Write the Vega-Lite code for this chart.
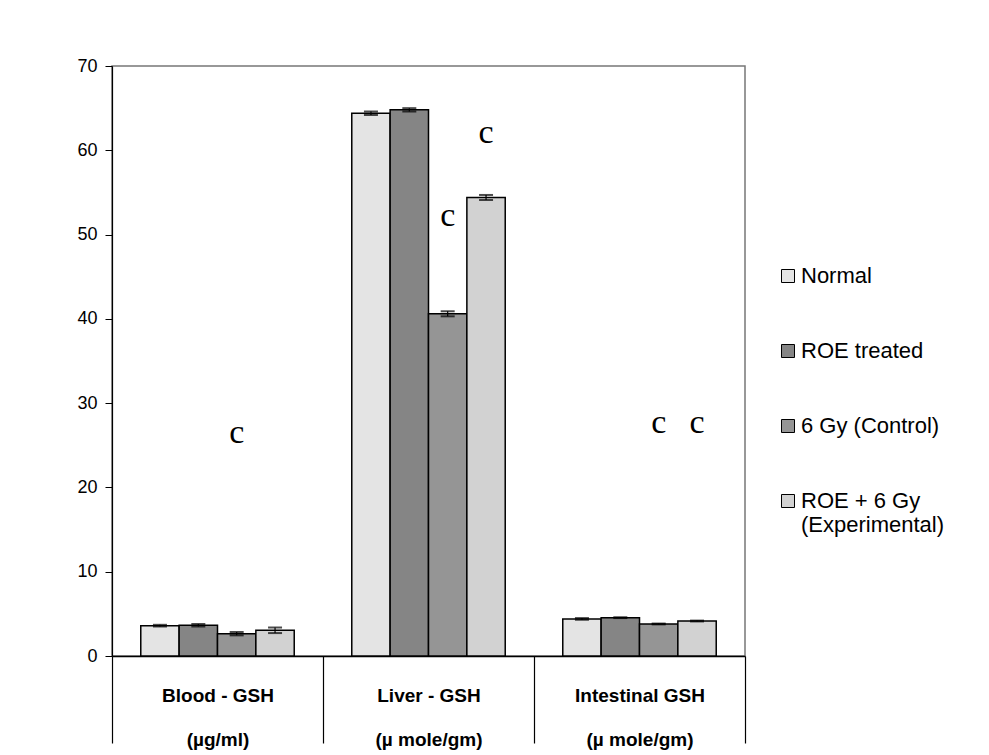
{
  "$schema": "https://vega.github.io/schema/vega-lite/v6.json",
  "width": 633,
  "height": 590,
  "autosize": {"type": "none"},
  "padding": {"left": 112, "top": 66, "right": 244, "bottom": 99},
  "background": "white",
  "config": {
    "view": {"stroke": "#777777", "strokeWidth": 1.5},
    "font": "Liberation Sans"
  },
  "datasets": {
    "bars": [
      {"cat": "Blood - GSH|(µg/ml)", "group": "Normal", "value": 3.6, "lo": 3.5, "hi": 3.7},
      {"cat": "Blood - GSH|(µg/ml)", "group": "ROE treated", "value": 3.65, "lo": 3.5, "hi": 3.8},
      {"cat": "Blood - GSH|(µg/ml)", "group": "6 Gy (Control)", "value": 2.65, "lo": 2.45, "hi": 2.85},
      {"cat": "Blood - GSH|(µg/ml)", "group": "ROE + 6 Gy (Experimental)", "value": 3.05, "lo": 2.72, "hi": 3.38},
      {"cat": "Liver - GSH|(µ mole/gm)", "group": "Normal", "value": 64.4, "lo": 64.2, "hi": 64.6},
      {"cat": "Liver - GSH|(µ mole/gm)", "group": "ROE treated", "value": 64.8, "lo": 64.6, "hi": 65.0},
      {"cat": "Liver - GSH|(µ mole/gm)", "group": "6 Gy (Control)", "value": 40.6, "lo": 40.3, "hi": 40.9},
      {"cat": "Liver - GSH|(µ mole/gm)", "group": "ROE + 6 Gy (Experimental)", "value": 54.4, "lo": 54.1, "hi": 54.7},
      {"cat": "Intestinal GSH|(µ mole/gm)", "group": "Normal", "value": 4.4, "lo": 4.3, "hi": 4.5},
      {"cat": "Intestinal GSH|(µ mole/gm)", "group": "ROE treated", "value": 4.55, "lo": 4.5, "hi": 4.6},
      {"cat": "Intestinal GSH|(µ mole/gm)", "group": "6 Gy (Control)", "value": 3.8, "lo": 3.75, "hi": 3.85},
      {"cat": "Intestinal GSH|(µ mole/gm)", "group": "ROE + 6 Gy (Experimental)", "value": 4.15, "lo": 4.1, "hi": 4.2}
    ],
    "letters": [
      {"cat": "Blood - GSH|(µg/ml)", "group": "6 Gy (Control)", "pos": 25.3, "label": "c"},
      {"cat": "Liver - GSH|(µ mole/gm)", "group": "6 Gy (Control)", "pos": 50.96, "label": "c"},
      {"cat": "Liver - GSH|(µ mole/gm)", "group": "ROE + 6 Gy (Experimental)", "pos": 60.9, "label": "c"},
      {"cat": "Intestinal GSH|(µ mole/gm)", "group": "6 Gy (Control)", "pos": 26.5, "label": "c"},
      {"cat": "Intestinal GSH|(µ mole/gm)", "group": "ROE + 6 Gy (Experimental)", "pos": 26.5, "label": "c"}
    ]
  },
  "encoding": {
    "x": {
      "field": "cat",
      "type": "nominal",
      "sort": ["Blood - GSH|(µg/ml)", "Liver - GSH|(µ mole/gm)", "Intestinal GSH|(µ mole/gm)"],
      "scale": {"paddingInner": 0, "paddingOuter": 0},
      "title": null,
      "axis": {
        "tickBand": "extent",
        "tickSize": 87,
        "tickColor": "black",
        "tickWidth": 1.2,
        "domainColor": "black",
        "domainWidth": 1.5,
        "labelFont": "Liberation Sans",
        "labelFontWeight": "bold",
        "labelFontSize": 19,
        "labelColor": "black",
        "labelAngle": 0,
        "labelLineHeight": 44,
        "labelPadding": -57,
        "labelExpr": "split(datum.label, '|')"
      }
    },
    "xOffset": {
      "field": "group",
      "type": "nominal",
      "sort": ["Normal", "ROE treated", "6 Gy (Control)", "ROE + 6 Gy (Experimental)"],
      "scale": {"paddingInner": 0, "paddingOuter": 0.75}
    }
  },
  "layer": [
    {
      "data": {"name": "bars"},
      "mark": {"type": "bar", "stroke": "black", "strokeWidth": 1.5},
      "encoding": {
        "y": {
          "field": "value",
          "type": "quantitative",
          "scale": {"domain": [0, 70], "nice": false},
          "title": null,
          "axis": {
            "values": [0, 10, 20, 30, 40, 50, 60, 70],
            "grid": false,
            "domainColor": "black",
            "domainWidth": 1.2,
            "tickColor": "black",
            "tickSize": 7,
            "labelFontSize": 18,
            "labelColor": "black",
            "labelPadding": 8,
            "labelFont": "Liberation Sans"
          }
        },
        "fill": {
          "field": "group",
          "type": "nominal",
          "sort": ["Normal", "ROE treated", "6 Gy (Control)", "ROE + 6 Gy (Experimental)"],
          "scale": {
            "domain": ["Normal", "ROE treated", "6 Gy (Control)", "ROE + 6 Gy (Experimental)"],
            "range": ["#e4e4e4", "#858585", "#959595", "#d2d2d2"]
          },
          "legend": {
            "orient": "none",
            "legendX": 665,
            "legendY": 199,
            "title": null,
            "symbolType": "square",
            "symbolSize": 169,
            "symbolStrokeColor": "black",
            "symbolStrokeWidth": 1,
            "labelFontSize": 22,
            "labelColor": "black",
            "labelFont": "Liberation Sans",
            "labelLimit": 300,
            "rowPadding": 53,
            "labelOffset": 2,
            "labelExpr": "datum.label == 'ROE + 6 Gy (Experimental)' ? ['ROE + 6 Gy', '(Experimental)'] : datum.label"
          }
        }
      }
    },
    {
      "data": {"name": "bars"},
      "mark": {"type": "rule", "color": "black", "strokeWidth": 1.2},
      "encoding": {
        "y": {"field": "lo", "type": "quantitative"},
        "y2": {"field": "hi"}
      }
    },
    {
      "data": {"name": "bars"},
      "mark": {"type": "tick", "color": "black", "thickness": 2, "size": 14},
      "encoding": {
        "y": {"field": "lo", "type": "quantitative"}
      }
    },
    {
      "data": {"name": "bars"},
      "mark": {"type": "tick", "color": "black", "thickness": 2, "size": 14},
      "encoding": {
        "y": {"field": "hi", "type": "quantitative"}
      }
    },
    {
      "data": {"name": "letters"},
      "mark": {"type": "text", "font": "Liberation Serif", "fontSize": 34, "baseline": "alphabetic", "align": "center", "color": "black"},
      "encoding": {
        "y": {"field": "pos", "type": "quantitative"},
        "text": {"field": "label"}
      }
    }
  ]
}
